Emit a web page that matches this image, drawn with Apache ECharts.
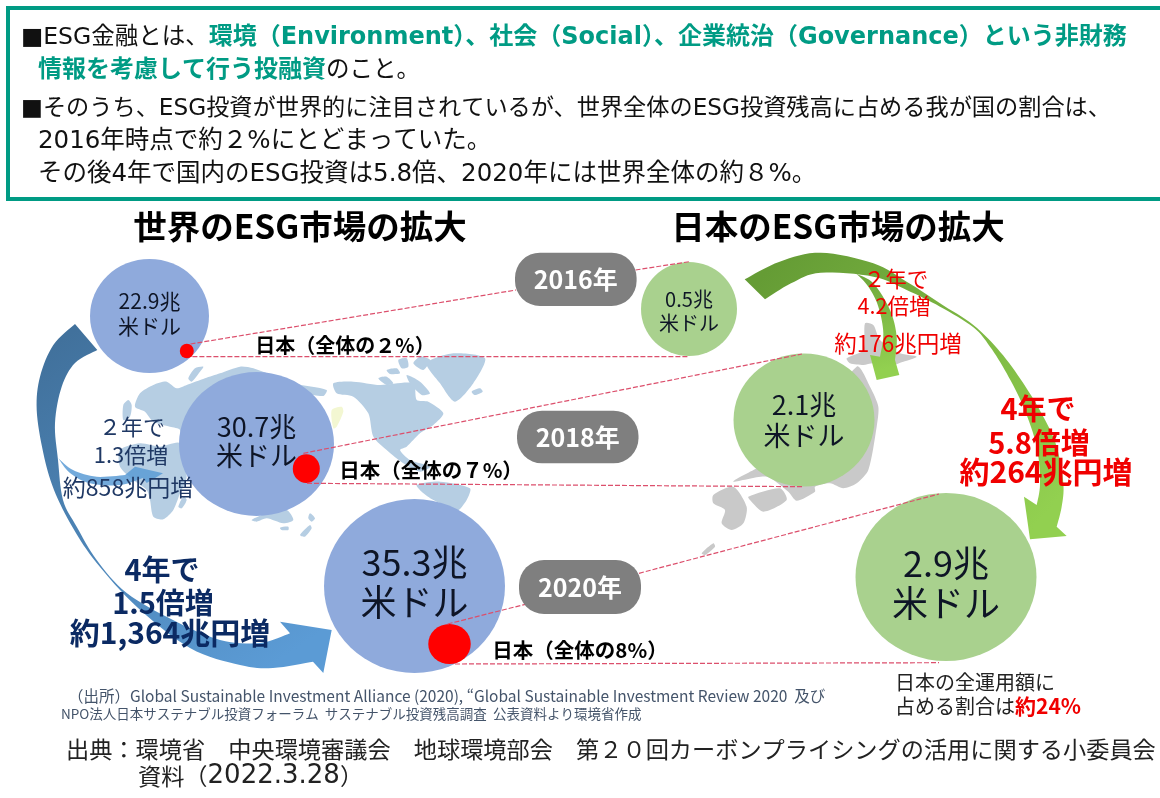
<!DOCTYPE html>
<html lang="ja">
<head>
<meta charset="utf-8">
<title>ESG金融</title>
<script src="https://cdn.jsdelivr.net/npm/echarts@6/dist/echarts.min.js"></script>
<style>
  html, body { margin: 0; padding: 0; background: #fff; }
  #chart { width: 1160px; height: 798px; }
</style>
</head>
<body>
<div id="chart"></div>
<script>
// values
const years = [2016, 2018, 2020]
const worldTotals = [22.9, 30.7, 35.3]
const japanTotals = [0.5, 2.1, 2.9]
const japanShareLabels = ["日本（全体の２%）", "日本（全体の７%）", "日本（全体の8%）"]
const japanShares = [2, 7, 8]

const FONT = '"Noto Sans CJK JP", "Noto Sans", sans-serif'
// wider latin and digits, kanji falls through to Noto
const WIDE = '"DejaVu Sans", "Noto Sans CJK JP", sans-serif'
const TEAL = "#009b84"
const NAVY = "#1f3864"
const RED = "#f00000"

// circle placement on the hidden page-sized axes
const worldPlace = [
  { x: 149.5, y: 316, w: 119, h: 114, font: 21, lh: 25, dy: -2 },
  { x: 256.5, y: 444, w: 155, h: 144, font: 27, lh: 29, dy: -3 },
  { x: 414.5, y: 586, w: 181, h: 174, font: 36, lh: 40, dy: -4 },
]
const japanPlace = [
  { x: 689, y: 309, w: 96, h: 94, font: 20, lh: 24, dy: 2 },
  { x: 804, y: 420, w: 141, h: 133, font: 27, lh: 31, dy: 0 },
  { x: 946, y: 577, w: 181, h: 168, font: 36, lh: 40, dy: 6 },
]
const dotPlace = [
  { x: 186.8, y: 351, w: 14, h: 14.6 },
  { x: 306.3, y: 468.7, w: 27, h: 28.7 },
  { x: 449.5, y: 644, w: 42.5, h: 40 },
]
const connectors = [
  [[190.5, 344], [516, 290]],
  [[635.5, 270], [689, 261.7]],
  [[192.4, 356.7], [689, 356.7]],
  [[303.4, 453.3], [802, 354]],
  [[307, 483.3], [803.8, 486.7]],
  [[447.6, 624], [525.3, 604.3]],
  [[639, 573.3], [939, 494]],
  [[455, 664], [939, 662.7]],
]
const pills = [
  { x: 515, y: 252.7, w: 121.6, h: 53.3 },
  { x: 517, y: 410.7, w: 121.5, h: 52.6 },
  { x: 519, y: 560, w: 122, h: 54 },
]

// catmull-rom through hand-read outline points
function spline(pts, steps = 8) {
  const out = []
  for (let i = 0; i < pts.length - 1; i++) {
    const p0 = pts[Math.max(i - 1, 0)]
    const p1 = pts[i]
    const p2 = pts[i + 1]
    const p3 = pts[Math.min(i + 2, pts.length - 1)]
    for (let s = 0; s < steps; s++) {
      const t = s / steps
      const f = (a, b, c, d) =>
        0.5 * (2 * b + (c - a) * t + (2 * a - 5 * b + 4 * c - d) * t * t + (3 * b - a - 3 * c + d) * t * t * t)
      out.push([f(p0[0], p1[0], p2[0], p3[0]), f(p0[1], p1[1], p2[1], p3[1])])
    }
  }
  out.push(pts[pts.length - 1])
  return out
}

const fromWorld = (pts) => pts.map(([x, y]) => [120 + x / 3, 350 + y / 3])
const fromJapan = (pts) => pts.map(([x, y]) => [700 + x / 3, 310 + y / 3])
const fromRight = (pts) => pts.map(([x, y]) => [840 + x / 3, 250 + y / 3])

const worldLand = [
  [[640,100],[700,95],[780,105],[880,100],[890,150],[925,155],[970,190],[940,225],[900,250],[860,290],[840,300],[870,330],[930,350],[900,365],[850,340],[800,300],[760,260],[745,190],[700,140],[650,130]],
  [[920,40],[1000,10],[1095,25],[1060,100],[1005,155],[960,100]],
  [[775,85],[800,80],[820,100],[800,105]],
  [[800,60],[830,55],[840,70],[810,72]],
  [[835,30],[860,25],[865,50],[845,55]],
  [[860,75],[900,95],[930,130],[905,135],[870,100]],
  [[880,40],[900,20],[930,30],[910,60]],
  [[1055,125],[1080,115],[1088,125],[1065,135]],
  [[890,405],[960,395],[1050,415],[1040,450],[1010,485],[985,470],[940,450],[905,425]],
  [[60,130],[100,105],[140,95],[170,115],[200,105],[255,85],[300,70],[360,50],[400,55],[520,100],[620,120],[610,138],[540,135],[400,300],[300,400],[180,340],[180,240],[150,230],[100,215],[75,185],[45,170]],
  [[0,300],[60,280],[120,290],[180,280],[200,380],[180,430],[160,480],[130,508],[100,500],[90,450],[80,420],[40,390],[0,350]],
  [[10,165],[25,150],[35,165],[30,200],[10,210]],
  [[205,85],[225,55],[250,50],[240,65],[215,95]],
  [[175,470],[190,440],[200,450],[185,475]],
  [[395,510],[440,490],[500,480],[520,510],[490,520],[440,505],[410,515]],
  [[540,555],[570,525],[575,535],[555,560]],
  [[565,505],[570,490],[585,505],[575,515]],
  [[480,533],[505,530],[505,540],[485,540]],
]
const japanLand = [
  [[495,40],[520,45],[540,90],[600,130],[650,140],[610,155],[560,170],[520,160],[490,165],[450,160],[440,145],[490,120]],
  [[470,170],[510,230],[535,290],[530,350],[505,480],[470,520],[430,535],[390,520],[345,530],[345,545],[290,572],[265,545],[200,500],[100,515],[170,475],[300,400]],
  [[145,560],[240,535],[260,570],[190,605],[150,570]],
  [[40,555],[100,530],[140,590],[130,640],[95,660],[65,640],[75,600],[40,580]],
  [[5,730],[40,700],[45,710],[15,735]],
]

const blueArrow = [
  ...spline([[75,324],[53.3,345],[40,376.7],[36.7,410],[43.3,453],[54,490],[73,528],[96.7,563],[136.7,606.7],[190,648],[240,665],[273,668],[313,661.7]]),
  [323.3,673], [331.7,630], [280,621.7],
  ...spline([[290,633.3],[260,643],[220,640],[173,620],[126.7,593],[96.7,560],[76.7,526.7],[63,500],[58,460],[55,423],[61.7,386.7],[75,363],[97.3,350]]),
]
const smallBlueArrow = [
  ...spline([[58.3,458.3],[73,470],[96.7,476.7],[125,475]]),
  [135,466.7], [163,473.3], [146.7,483],
  ...spline([[143,478],[120,485],[90,483.3],[70,473],[58.3,458.3]]),
]
const greenArrow = fromRight([
  ...spline([[-286,88],[-181,35],[-58,8],[100,40],[200,95],[300,160],[400,225],[480,305],[550,400],[610,500],[650,590],[670,700],[665,770],[650,830]]),
  [680,858], [570,868], [552,740],
  ...spline([[590,765],[600,700],[590,590],[550,470],[500,370],[450,290],[400,232],[300,170],[200,120],[100,80],[-58,68],[-147,100],[-225,148]]),
])
const smallGreenArrow = fromRight([
  ...spline([[50,72],[100,100],[150,180],[170,260],[165,330]]),
  [178,375], [110,390], [90,315],
  ...spline([[120,320],[130,250],[115,170],[85,110],[50,72]]),
])

function land(pts, fill) {
  return { type: "polygon", z: 0, silent: true, shape: { points: pts, smooth: 0.25 }, style: { fill } }
}
function arrow(points, fill, opacity = 1) {
  return { type: "polygon", z: 1, silent: true, shape: { points }, style: { fill, opacity } }
}
function grad(x, y, x2, y2, from, to) {
  return { type: "linear", global: true, x, y, x2, y2, colorStops: [{ offset: 0, color: from }, { offset: 1, color: to }] }
}
function txt(text, x, y, fontSize, fill = "#000", extra = {}) {
  return {
    type: "text",
    z: 10,
    silent: true,
    style: {
      text, x, y, fill, fontSize,
      fontFamily: extra.family || FONT,
      fontWeight: extra.bold ? "bold" : "normal",
      align: extra.align || "center",
      verticalAlign: "middle",
      rich: extra.rich,
    },
  }
}

const bodyRich = {
  k: { fontFamily: WIDE, fontSize: 23.5, fill: "#111", color: "#111" },
  g: { fontFamily: WIDE, fontSize: 24, fontWeight: "bold", fill: TEAL, color: TEAL },
}

const graphics = [
  { type: "rect", z: 1, silent: true, shape: { x: 8, y: 8, width: 1160, height: 191 }, style: { fill: "none", stroke: TEAL, lineWidth: 4 } },
  txt("{k|■ESG金融とは、}{g|環境（Environment）、社会（Social）、企業統治（Governance）という非財務}", 21, 38, 24, "#111", { align: "left", rich: bodyRich }),
  txt("{g|情報を考慮して行う投融資}{k|のこと。}", 38, 71, 24, "#111", { align: "left", rich: bodyRich }),
  txt("■そのうち、ESG投資が世界的に注目されているが、世界全体のESG投資残高に占める我が国の割合は、", 21, 109, 23.2, "#111", { align: "left", family: WIDE }),
  txt("2016年時点で約２%にとどまっていた。", 38, 142, 24.5, "#111", { align: "left", family: WIDE }),
  txt("その後4年で国内のESG投資は5.8倍、2020年には世界全体の約８%。", 38, 175, 24.5, "#111", { align: "left", family: WIDE }),

  txt("世界のESG市場の拡大", 300, 226, 33.5, "#000", { bold: true }),
  txt("日本のESG市場の拡大", 838, 226, 33.5, "#000", { bold: true }),

  ...worldLand.map((p) => land(fromWorld(p), "#b6cee3")),
  ...japanLand.map((p) => land(fromJapan(p), "#c9c9c9")),
  land(fromWorld([[635,180],[665,170],[670,185],[650,230],[640,235]]), "#f3f7d2"),

  arrow(blueArrow, grad(60, 340, 280, 660, "#41719c", "#5b9bd5")),
  arrow(smallBlueArrow, "#5b9bd5", 0.85),
  arrow(greenArrow, grad(760, 280, 1040, 520, "#659c35", "#92d050")),
  arrow(smallGreenArrow, grad(860, 275, 880, 370, "#6fa83c", "#92d050")),

  ...years.map((year, i) => ({
    type: "rect",
    z: 5,
    silent: true,
    shape: { x: pills[i].x, y: pills[i].y, width: pills[i].w, height: pills[i].h, r: 25 },
    style: { fill: "#7f7f7f" },
  })),
  ...years.map((year, i) => txt(year + "年", pills[i].x + pills[i].w / 2, pills[i].y + pills[i].h / 2, 25, "#fff", { bold: true })),

  txt(japanShareLabels[0], 345, 345, 20, "#000", { bold: true }),
  txt(japanShareLabels[1], 431, 470, 20.5, "#000", { bold: true }),
  txt(japanShareLabels[2], 580, 650, 20.5, "#000", { bold: true }),

  txt("２年で", 132, 427, 22, NAVY),
  txt("1.3倍増", 131, 455, 22, NAVY),
  txt("約858兆円増", 128, 487, 23, NAVY),

  txt("4年で", 162, 570, 29, "#0b2a63", { bold: true }),
  txt("1.5倍増", 163, 603, 29, "#0b2a63", { bold: true }),
  txt("約1,364兆円増", 170, 633, 30, "#0b2a63", { bold: true }),

  txt("２年で", 896, 279, 21.5, RED),
  txt("4.2倍増", 894, 306, 21.5, RED),
  txt("約176兆円増", 898, 343, 22.5, RED),

  txt("4年で", 1038, 409, 29, RED, { bold: true }),
  txt("5.8倍増", 1039, 443, 29, RED, { bold: true }),
  txt("約264兆円増", 1046, 472, 30, RED, { bold: true }),

  txt("日本の全運用額に", 895, 682, 20, "#222", { align: "left" }),
  txt("{a|占める割合は}{b|約24%}", 895, 706, 20, "#222", {
    align: "left",
    rich: {
      a: { fontFamily: FONT, fontSize: 20, color: "#222", fill: "#222" },
      b: { fontFamily: FONT, fontSize: 21, fontWeight: "bold", color: RED, fill: RED },
    },
  }),

  txt("（出所）Global Sustainable Investment Alliance (2020), “Global Sustainable Investment Review 2020  及び", 68, 696, 15.5, "#44546a", { align: "left" }),
  txt("NPO法人日本サステナブル投資フォーラム  サステナブル投資残高調査  公表資料より環境省作成", 61, 714, 13.5, "#44546a", { align: "left" }),

  txt("出典：環境省　中央環境審議会　地球環境部会　第２０回カーボンプライシングの活用に関する小委員会", 66, 749, 23.2, "#222", { align: "left" }),
  txt("{a|資料（}{d|2022.3.28}{a|）}", 138, 776, 23.2, "#222", {
    align: "left",
    rich: {
      a: { fontFamily: FONT, fontSize: 23.2, color: "#222", fill: "#222" },
      d: { fontFamily: WIDE, fontSize: 26, color: "#222", fill: "#222" },
    },
  }),
]

function bubbles(values, place, color) {
  return values.map((v, i) => ({
    value: [place[i].x, place[i].y, v],
    symbolSize: [place[i].w, place[i].h],
    itemStyle: { color, opacity: 1 },
    label: {
      show: true,
      position: "inside",
      offset: [0, place[i].dy],
      formatter: v + "兆\n米ドル",
      fontFamily: FONT,
      fontSize: place[i].font,
      lineHeight: place[i].lh,
      color: "#0e1526",
    },
  }))
}

const chart = echarts.init(document.getElementById("chart"))

chart.setOption({
  animation: false,
  backgroundColor: "#fff",
  tooltip: { show: false },
  grid: { left: 0, right: 0, top: 0, bottom: 0 },
  xAxis: { type: "value", min: 0, max: 1160, show: false },
  yAxis: { type: "value", min: 0, max: 798, inverse: true, show: false },
  graphic: graphics,
  series: [
    { type: "scatter", z: 2, silent: true, data: bubbles(worldTotals, worldPlace, "#8faadc") },
    { type: "scatter", z: 2, silent: true, data: bubbles(japanTotals, japanPlace, "#a9d18e") },
    {
      type: "scatter",
      z: 3,
      silent: true,
      data: japanShares.map((v, i) => ({
        value: [dotPlace[i].x, dotPlace[i].y, v],
        symbolSize: [dotPlace[i].w, dotPlace[i].h],
        itemStyle: { color: "#ff0000", opacity: 1 },
      })),
    },
    ...connectors.map((pts) => ({
      type: "line",
      z: 4,
      silent: true,
      symbol: "none",
      data: pts,
      lineStyle: { color: "#dc4f6c", width: 1.2, type: [5, 2] },
    })),
  ],
})
</script>
</body>
</html>
